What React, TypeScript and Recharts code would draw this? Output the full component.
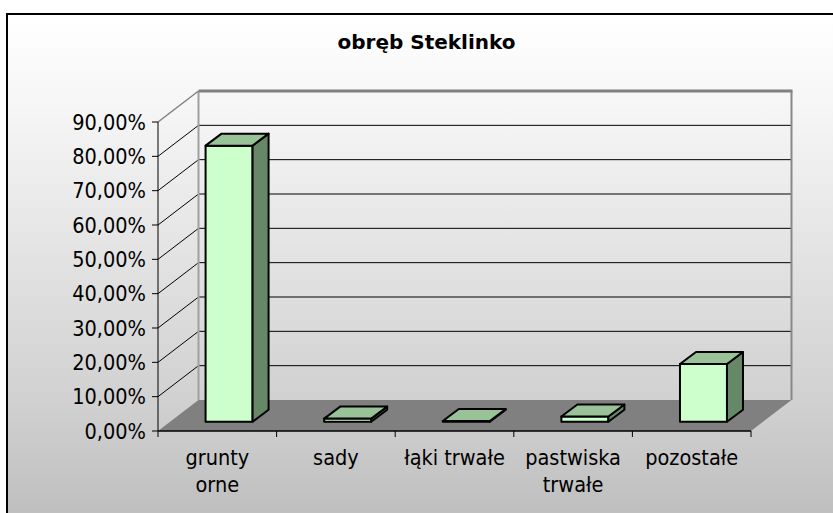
import React from 'react'
import { BarChart, Bar, XAxis, YAxis, CartesianGrid } from 'recharts'

const categories = ['grunty orne', 'sady', 'łąki trwałe', 'pastwiska trwałe', 'pozostałe']
const categoryLines = [['grunty', 'orne'], ['sady'], ['łąki trwałe'], ['pastwiska', 'trwałe'], ['pozostałe']]
const shares = [0.804, 0.009, 0.002, 0.015, 0.168]
const yTicks = [0, 0.1, 0.2, 0.3, 0.4, 0.5, 0.6, 0.7, 0.8, 0.9]

const data = categories.map((name, i) => ({ name, value: shares[i] }))

const FONT = '"DejaVu Sans", Verdana, sans-serif'
const AXIS_FONT = '"DejaVu Sans Condensed", "DejaVu Sans", sans-serif'
// depth of the walls / floor and of the bars (Excel 3D look)
const WALL_DX = 40.5
const WALL_DY = 31
const BAR_OX = 12
const BAR_OY = 9.3
const BAR_DX = 16
const BAR_DY = 12

const formatPct = (v: number) => (v * 100).toFixed(2).replace('.', ',') + '%'

function Bar3D(props: any) {
  const { x, y, width, height } = props
  if (x == null || y == null) return null
  const fx = x + BAR_OX
  const fy = y - BAR_OY
  const w = width
  const h = Math.max(height, 0)
  const top = `${fx},${fy} ${fx + BAR_DX},${fy - BAR_DY} ${fx + w + BAR_DX},${fy - BAR_DY} ${fx + w},${fy}`
  const side = `${fx + w},${fy} ${fx + w + BAR_DX},${fy - BAR_DY} ${fx + w + BAR_DX},${fy + h - BAR_DY} ${fx + w},${fy + h}`
  return (
    <g stroke="#000" strokeWidth={2} strokeLinejoin="round">
      <rect x={fx} y={fy} width={w} height={h} fill="#ccffcc" />
      <polygon points={side} fill="#668866" />
      <polygon points={top} fill="#99c299" />
    </g>
  )
}

function WallLine(props: any) {
  const { x1, x2, y1, y, height, index } = props
  const bottom = y + height
  const by = y1 - WALL_DY
  if (Math.abs(y1 - bottom) < 0.5) {
    return (
      <g key={`h-${index}`}>
        <polygon
          points={`${x1},${y1} ${x2},${y1} ${x2 + WALL_DX},${by} ${x1 + WALL_DX},${by}`}
          fill="#808080"
        />
      </g>
    )
  }
  if (Math.abs(y1 - y) < 0.5) {
    return (
      <g key={`h-${index}`}>
        <line x1={x1 + WALL_DX} y1={by} x2={x1 + WALL_DX} y2={bottom - WALL_DY} stroke="#a0a0a0" strokeWidth={2} />
        <line x1={x2 + WALL_DX} y1={by} x2={x2 + WALL_DX} y2={bottom - WALL_DY} stroke="#888" strokeWidth={2} />
        <line x1={x1} y1={y1} x2={x1 + WALL_DX} y2={by} stroke="#808080" strokeWidth={1.5} />
        <line x1={x1 + WALL_DX} y1={by} x2={x2 + WALL_DX + 1} y2={by} stroke="#808080" strokeWidth={3} />
      </g>
    )
  }
  return (
    <g key={`h-${index}`}>
      <line x1={x1} y1={y1} x2={x1 + WALL_DX} y2={by} stroke="#000" strokeWidth={1} />
      <line x1={x1 + WALL_DX} y1={by} x2={x2 + WALL_DX} y2={by} stroke="#000" strokeWidth={1} />
    </g>
  )
}

function CategoryTick(props: any) {
  const { x, y, payload, width, visibleTicksCount } = props
  const i = categories.indexOf(payload.value)
  const axisWidth = width > 100 ? width : 593
  const band = axisWidth / (visibleTicksCount || categories.length)
  const axisY = y - 8
  const lines = categoryLines[i] || [payload.value]
  return (
    <g>
      <line x1={x - band / 2} y1={axisY} x2={x - band / 2} y2={axisY + 6} stroke="#000" />
      {i === categories.length - 1 && (
        <line x1={x + band / 2} y1={axisY} x2={x + band / 2} y2={axisY + 6} stroke="#000" />
      )}
      <text x={x} y={y + 26} textAnchor="middle" fontSize={21.5} fontFamily={AXIS_FONT} fill="#000">
        {lines.map((l, k) => (
          <tspan key={k} x={x} dy={k === 0 ? 0 : 27}>
            {l}
          </tspan>
        ))}
      </text>
    </g>
  )
}

export default function App() {
  return (
    <div style={{ position: 'absolute', left: 0, top: 0, width: 833, height: 513, overflow: 'hidden', background: '#fff' }}>
      <div
        style={{
          position: 'absolute',
          left: 6,
          top: 13,
          width: 900,
          height: 600,
          boxSizing: 'border-box',
          border: '2px solid #000',
          background: 'linear-gradient(to bottom, #ffffff 0px, #f6f6f6 90px, #d0d0d0 390px, #bfbfbf 500px)',
        }}
      />
      <svg width={833} height={513} style={{ position: 'absolute', left: 0, top: 0 }}>
        <text x={426.5} y={49.3} textAnchor="middle" fontSize={20} fontWeight="bold" fontFamily={FONT} fill="#000">
          obręb Steklinko
        </text>
      </svg>
      <div style={{ position: 'absolute', left: 0, top: 0 }}>
        <BarChart
          width={833}
          height={513}
          data={data}
          margin={{ top: 122, right: 82, bottom: 22, left: 0 }}
          barCategoryGap="30%"
        >
          <CartesianGrid horizontal={WallLine} vertical={false} />
          <XAxis
            dataKey="name"
            interval={0}
            height={60}
            tickLine={false}
            tickSize={6}
            tickMargin={2}
            axisLine={{ stroke: '#000', strokeWidth: 1.5 }}
            tick={CategoryTick}
          />
          <YAxis
            width={158}
            domain={[0, 0.9]}
            ticks={yTicks}
            tickFormatter={formatPct}
            tickSize={6}
            tickMargin={6}
            tickLine={{ stroke: '#000' }}
            axisLine={{ stroke: '#000' }}
            tick={{ fill: '#000', fontSize: 21.5, fontFamily: AXIS_FONT }}
          />
          <Bar dataKey="value" shape={Bar3D} isAnimationActive={false} />
        </BarChart>
      </div>
    </div>
  )
}
